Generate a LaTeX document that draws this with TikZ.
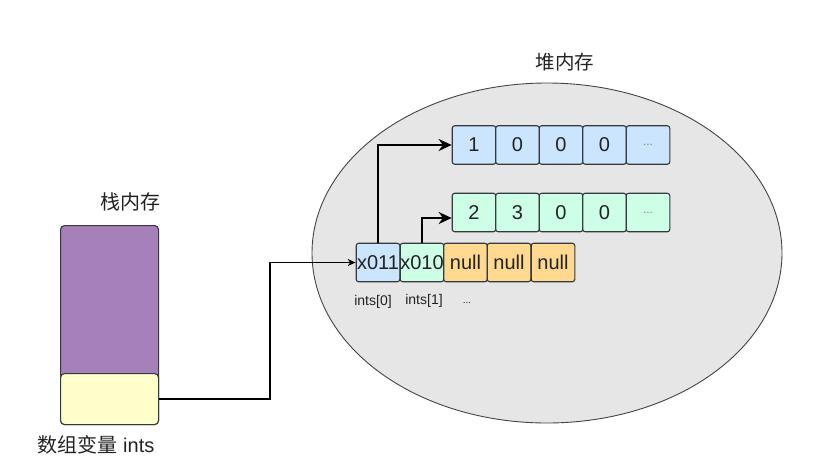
\documentclass[tikz,border=0pt]{standalone}
\usepackage{fontspec}
\setmainfont{Liberation Sans}
\newfontfamily\cjk{Noto Sans CJK SC}
\usetikzlibrary{shapes.geometric,arrows.meta,positioning}
\definecolor{ellfill}{HTML}{E6E6E6}
\definecolor{ellline}{HTML}{444444}
\definecolor{cellline}{HTML}{36393D}
\definecolor{cblue}{HTML}{CCE5FF}
\definecolor{cgreen}{HTML}{CCFFE6}
\definecolor{corange}{HTML}{FFD98F}
\definecolor{cpurple}{HTML}{A680B8}
\definecolor{cyellow}{HTML}{FFFFCC}
\definecolor{txt}{HTML}{222222}
\tikzset{
  cell/.style={draw=cellline, line width=1.1pt, rounded corners=2.5pt, minimum width=43.6pt, minimum height=38.5pt, inner sep=0pt, font=\fontsize{20}{20}\selectfont, text=txt},
  small/.style={font=\fontsize{14}{14}\selectfont, text=txt, inner sep=0pt},
  title/.style={font=\cjk\fontsize{19.5}{19.5}\selectfont, text=txt, inner sep=0pt},
  bigarrow/.style={line width=2.4pt, -{Stealth[length=13pt,width=12pt]}},
  thinarrow/.style={line width=1.2pt, -{Stealth[length=8pt,width=7pt]}},
}
\begin{document}
\begin{tikzpicture}[x=1pt,y=-1pt]
\useasboundingbox (0,0) rectangle (834,469);
% heap ellipse
\node[ellipse, draw=ellline, line width=0.9pt, fill=ellfill, minimum width=470pt, minimum height=340pt, inner sep=0pt, outer sep=0pt] (heap) at (547,253) {};
\node[title] (heapt) at (565,62) {堆内存};
% top array
\node[cell, fill=cblue] (a0) at (474,145) {1};
\node[cell, fill=cblue] (a1) at (517.5,145) {0};
\node[cell, fill=cblue] (a2) at (561,145) {0};
\node[cell, fill=cblue] (a3) at (604.5,145) {0};
\node[cell, fill=cblue] (a4) at (648,145) {\fontsize{12}{12}\selectfont\color{gray}...};
% second array
\node[cell, fill=cgreen] (b0) at (474,212.5) {2};
\node[cell, fill=cgreen] (b1) at (517.5,212.5) {3};
\node[cell, fill=cgreen] (b2) at (561,212.5) {0};
\node[cell, fill=cgreen] (b3) at (604.5,212.5) {0};
\node[cell, fill=cgreen] (b4) at (648,212.5) {\fontsize{12}{12}\selectfont\color{gray}...};
% outer array
\node[cell, fill=cblue] (c0) at (378,262.5) {x011};
\node[cell, fill=cgreen] (c1) at (422,262.5) {x010};
\node[cell, fill=corange] (c2) at (465.5,262.5) {null};
\node[cell, fill=corange] (c3) at (509,262.5) {null};
\node[cell, fill=corange] (c4) at (553,262.5) {null};
\node[small] (l0) at (373,302) {ints[0]};
\node[small] (l1) at (424,301) {ints[1]};
\node[small] (l2) at (467,303) {\fontsize{10}{10}\selectfont ...};
% pointers
\draw[bigarrow] (c0.north) |- (a0.west);
\draw[bigarrow] (c1.north) |- ([yshift=-5.5pt]b0.west);
% stack
\node[title, font=\cjk\fontsize{20}{20}\selectfont] (stackt) at (130,202) {栈内存};
\node[draw=cellline, line width=1.1pt, fill=cpurple, rounded corners=4pt, minimum width=98pt, minimum height=199pt, inner sep=0pt, anchor=north west] (stack) at (60,225) {};
\node[draw=cellline, line width=1.1pt, fill=cyellow, rounded corners=4pt, minimum width=98pt, minimum height=51pt, inner sep=0pt, anchor=north west] (var) at (60,373) {};
\node[font=\fontsize{20}{20}\selectfont, text=txt, inner sep=0pt] (varl) at (96,445) {{\cjk 数组变量} ints};
\coordinate (mid) at (270,0);
\draw[thinarrow] (var.east) -- (var.east -| mid) |- (c0.west);
\end{tikzpicture}
\end{document}
